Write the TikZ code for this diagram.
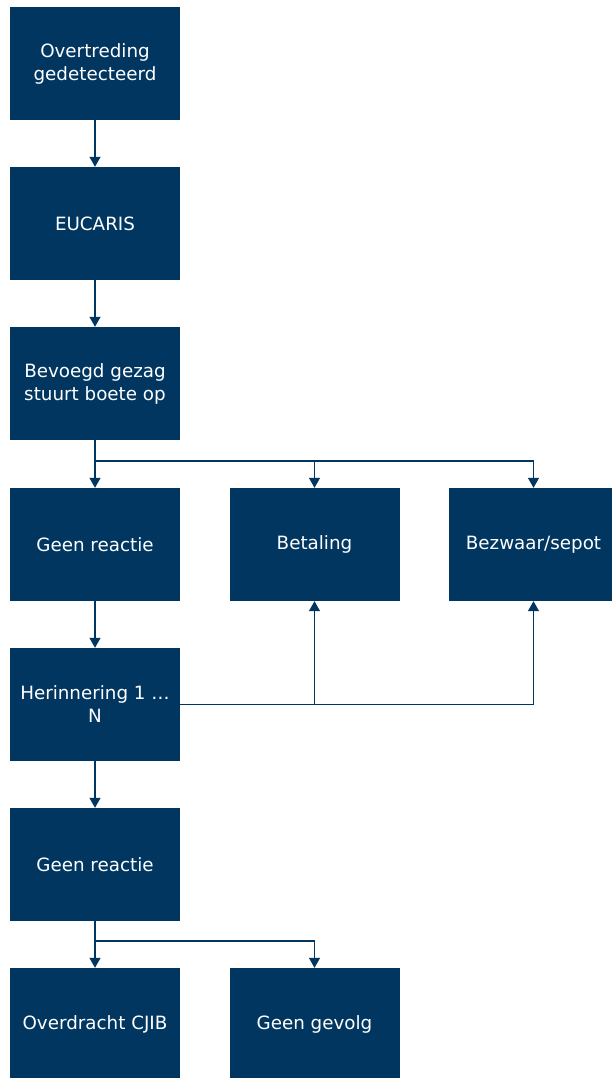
\documentclass[tikz,border=0pt]{standalone}
\usepackage{fontspec}
\setmainfont{DejaVu Sans}
\usetikzlibrary{arrows.meta}
\definecolor{dblue}{RGB}{1,54,96}
\tikzset{
  box/.style={fill=dblue, draw=none, minimum width=170pt, minimum height=113pt, inner sep=0pt,
    text=white, align=center, font=\fontsize{18.3}{23}\selectfont},
  conn/.style={draw=dblue, line width=1.3pt, -{Triangle[width=11pt,length=10pt]}},
  link/.style={draw=dblue, line width=1.3pt}
}
\begin{document}
\begin{tikzpicture}[x=1pt,y=-1pt]
\useasboundingbox (0,0) rectangle (611,1078);
\node[box] (a) at (95,63.5) {Overtreding\\gedetecteerd};
\node[box] (b) at (95,223.5) {EUCARIS};
\node[box] (c) at (95,383.5) {Bevoegd gezag\\stuurt boete op};
\node[box] (d) at (95,544.5) {Geen reactie};
\node[box] (e) at (314.5,544.5) {Betaling};
\node[box] (f) at (533.5,544.5) {Bezwaar/sepot};
\node[box] (g) at (95,704.5) {Herinnering 1 …\\N};
\node[box] (h) at (95,864.5) {Geen reactie};
\node[box] (i) at (95,1024.5) {Overdracht CJIB};
\node[box] (j) at (314.5,1024.5) {Geen gevolg};
\coordinate (s1) at (95,461);
\coordinate (s2) at (95,941);
\draw[conn] (a) -- (b);
\draw[conn] (b) -- (c);
\draw[conn] (c) -- (d);
\draw[link] (c.south) -- (s1);
\draw[conn] (s1) -| (e);
\draw[conn] (s1) -| (f);
\draw[conn] (d) -- (g);
\draw[conn] (g.east) -| (e);
\draw[conn] (g.east) -| (f);
\draw[conn] (g) -- (h);
\draw[conn] (h) -- (i);
\draw[link] (h.south) -- (s2);
\draw[conn] (s2) -| (j);
\end{tikzpicture}
\end{document}
